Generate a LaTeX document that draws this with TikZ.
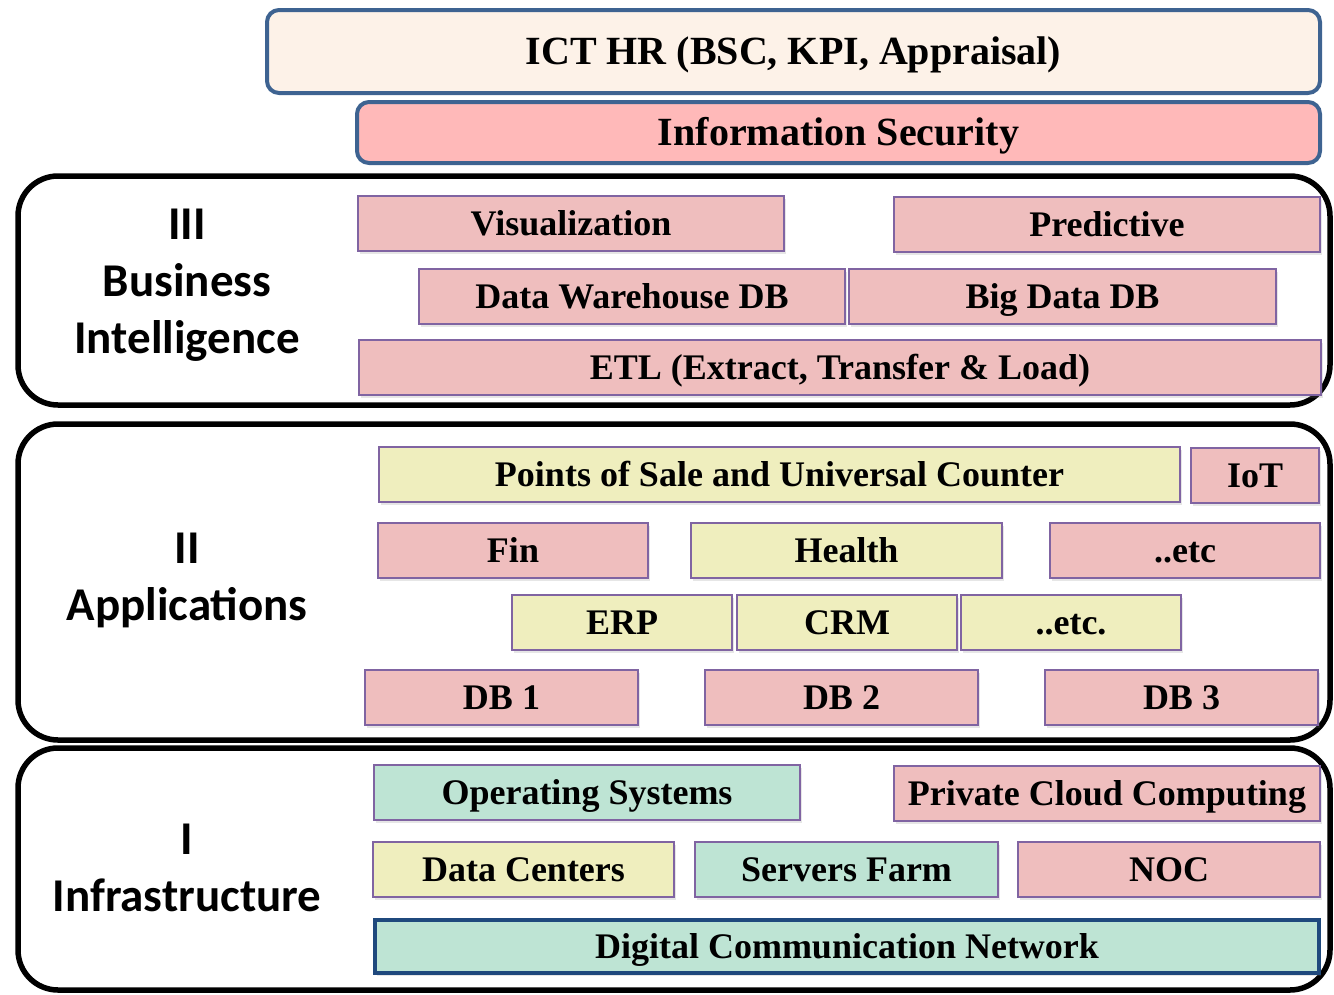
\documentclass[tikz,border=0pt]{standalone}
\usepackage{fontspec}
\setmainfont{Liberation Serif}
\newfontfamily\layerfont{Carlito}
\usetikzlibrary{shadows}

\definecolor{hrfill}{RGB}{253,242,232}
\definecolor{secfill}{RGB}{255,185,185}
\definecolor{topline}{RGB}{62,99,145}
\definecolor{pinkfill}{RGB}{239,190,190}
\definecolor{yellowfill}{RGB}{239,238,190}
\definecolor{tealfill}{RGB}{190,228,212}
\definecolor{tileline}{RGB}{128,100,162}
\definecolor{netline}{RGB}{31,73,125}

\tikzset{
  layer/.style={draw=black, line width=5.5pt, rounded corners=40pt, inner sep=0pt},
  layerlabel/.style={align=center, font=\layerfont\bfseries\fontsize{47}{57}\selectfont},
  topbox/.style={draw=topline, line width=4pt, rounded corners=12pt, inner sep=0pt,
    text height=32pt, text depth=6pt,
    font=\bfseries\fontsize{40}{44}\selectfont},
  tile/.style={draw=tileline, line width=2pt, minimum height=55pt, inner sep=0pt,
    text height=29pt, text depth=5pt,
    font=\bfseries\fontsize{36}{40}\selectfont,
    drop shadow={shadow xshift=2pt, shadow yshift=-3pt, opacity=0.2}},
  pinktile/.style={tile, fill=pinkfill},
  yellowtile/.style={tile, fill=yellowfill},
  tealtile/.style={tile, fill=tealfill}
}

\begin{document}
\begin{tikzpicture}[x=1pt, y=-1pt]
    \useasboundingbox (0,0) rectangle (1334,994);

    % Top bars
    \node[topbox, fill=hrfill, minimum width=1053pt, minimum height=83pt] (hr) at (793.5,51.5) {ICT HR (BSC, KPI, Appraisal)};
    \node[topbox, fill=secfill, minimum width=963pt, minimum height=61pt] (sec) at (838.5,132.5) {Information Security};

    % Layer frames
    \node[layer, minimum width=1312pt, minimum height=229pt] (layerIII) at (674,290.5) {};
    \node[layer, minimum width=1312pt, minimum height=316pt] (layerII) at (674,582) {};
    \node[layer, minimum width=1312pt, minimum height=242pt] (layerI) at (674,869) {};

    % Layer names
    \node[layerlabel] (nameIII) at (187,285) {III\\Business\\Intelligence};
    \node[layerlabel] (nameII) at (187,580.5) {II\\Applications};
    \node[layerlabel] (nameI) at (187,867.5) {I\\Infrastructure};

    % III Business Intelligence
    \node[pinktile, minimum width=426pt] (vis) at (571,223.5) {Visualization};
    \node[pinktile, minimum width=426pt] (pred) at (1107,224) {Predictive};
    \node[pinktile, minimum width=426pt] (dwh) at (632,296) {Data Warehouse DB};
    \node[pinktile, minimum width=427pt] (bigdata) at (1062.5,296) {Big Data DB};
    \node[pinktile, minimum width=962pt] (etl) at (840,367) {ETL (Extract, Transfer \& Load)};

    % II Applications
    \node[yellowtile, minimum width=801pt] (pos) at (779.5,474.5) {Points of Sale and Universal Counter};
    \node[pinktile, minimum width=128pt] (iot) at (1255,475) {IoT};
    \node[pinktile, minimum width=270pt] (fin) at (513,550) {Fin};
    \node[yellowtile, minimum width=311pt] (health) at (846.5,550) {Health};
    \node[pinktile, minimum width=270pt] (etcA) at (1185,550) {..etc};
    \node[yellowtile, minimum width=220pt] (erp) at (622,622.5) {ERP};
    \node[yellowtile, minimum width=220pt] (crm) at (847,622.5) {CRM};
    \node[yellowtile, minimum width=220pt] (etcB) at (1071,622.5) {..etc.};
    \node[pinktile, minimum width=273pt] (dbA) at (501.5,697.5) {DB 1};
    \node[pinktile, minimum width=273pt] (dbB) at (841.5,697.5) {DB 2};
    \node[pinktile, minimum width=273pt] (dbC) at (1181.5,697.5) {DB 3};

    % I Infrastructure
    \node[tealtile, minimum width=426pt] (os) at (587,792.5) {Operating Systems};
    \node[pinktile, minimum width=426pt] (cloud) at (1107,793) {Private Cloud Computing};
    \node[yellowtile, minimum width=301pt] (dc) at (523.5,869.5) {Data Centers};
    \node[tealtile, minimum width=303pt] (farm) at (846.5,869.5) {Servers Farm};
    \node[pinktile, minimum width=302pt] (noc) at (1169,869.5) {NOC};
    \node[tealtile, draw=netline, line width=4pt, minimum width=944pt, minimum height=53pt] (net) at (847,946.5) {Digital Communication Network};
\end{tikzpicture}
\end{document}
